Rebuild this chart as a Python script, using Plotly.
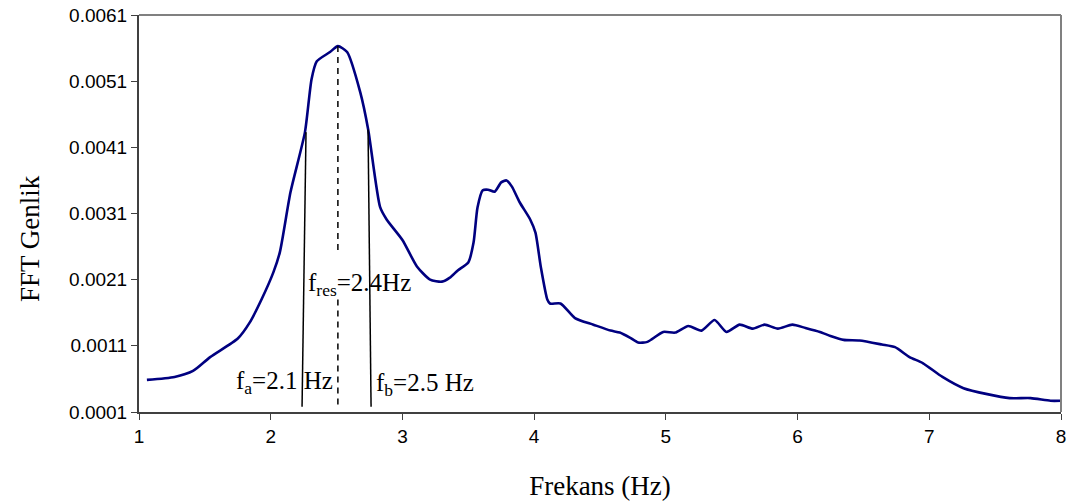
import plotly.graph_objects as go

# FFT amplitude spectrum (frequency in Hz, amplitude)
freq_hz = [1.06, 1.27, 1.41, 1.54, 1.75, 1.84, 1.93, 2.02, 2.07, 2.15, 2.26, 2.31, 2.35,
           2.45, 2.51, 2.58, 2.68, 2.74, 2.83, 2.88, 3.00, 3.11, 3.21, 3.30, 3.36, 3.42,
           3.50, 3.54, 3.57, 3.61, 3.65, 3.70, 3.75, 3.79, 3.83, 3.89, 3.97, 4.01, 4.05,
           4.10, 4.12, 4.20, 4.31, 4.45, 4.58, 4.65, 4.73, 4.79, 4.86, 4.98, 5.07, 5.17,
           5.27, 5.37, 5.46, 5.56, 5.66, 5.75, 5.85, 5.96, 6.06, 6.17, 6.25, 6.35, 6.47,
           6.64, 6.74, 6.85, 6.95, 7.10, 7.26, 7.44, 7.61, 7.77, 7.92, 8.00]
fft_amp = [0.000585, 0.00063, 0.00072, 0.00093, 0.00121, 0.00145, 0.00180, 0.00221, 0.00252,
           0.00342, 0.00433, 0.00513, 0.00540, 0.00554, 0.00563, 0.00554, 0.00493, 0.00437,
           0.00320, 0.00301, 0.00270, 0.00230, 0.00210, 0.00207, 0.00213, 0.00224, 0.00236,
           0.00266, 0.00319, 0.00345, 0.00346, 0.00343, 0.00357, 0.00360, 0.00351, 0.00327,
           0.00301, 0.00281, 0.00230, 0.00180, 0.00174, 0.00174, 0.00152, 0.00142, 0.00133,
           0.00130, 0.00122, 0.00115, 0.00116, 0.00131, 0.00130, 0.00140, 0.00133, 0.00149,
           0.00131, 0.00142, 0.00136, 0.00142, 0.00136, 0.00142, 0.00137, 0.00131, 0.00125,
           0.00119, 0.00118, 0.00112, 0.00108, 0.00093, 0.00084, 0.00063, 0.00046, 0.00037,
           0.00031, 0.00031, 0.00027, 0.00027]

# Half-power band markers (bottom/top endpoints) and resonance marker
fa_x = [2.238, 2.268]
fa_y = [0.00018, 0.00433]
fb_x = [2.762, 2.739]
fb_y = [0.00018, 0.00437]
fres_x = 2.51
fres_upper = [0.00563, 0.00253]
fres_lower = [0.00180, 0.00018]

x_ticks = [1, 2, 3, 4, 5, 6, 7, 8]
y_ticks = [0.0001, 0.0011, 0.0021, 0.0031, 0.0041, 0.0051, 0.0061]

fig = go.Figure()

fig.add_trace(go.Scatter(
    x=freq_hz, y=fft_amp, mode="lines",
    line=dict(color="#000080", width=2.6, shape="spline", smoothing=0.6),
    showlegend=False, hoverinfo="skip"))

for xs, ys in [(fa_x, fa_y), (fb_x, fb_y)]:
    fig.add_trace(go.Scatter(x=xs, y=ys, mode="lines",
                             line=dict(color="black", width=1.5),
                             showlegend=False, hoverinfo="skip"))

for ys in [fres_upper, fres_lower]:
    fig.add_trace(go.Scatter(x=[fres_x, fres_x], y=ys, mode="lines",
                             line=dict(color="black", width=1.5, dash="6px,5px"),
                             showlegend=False, hoverinfo="skip"))

serif = "Liberation Serif, Times New Roman, serif"
ann_font = dict(family=serif, size=25, color="black")
fig.add_annotation(x=1.725, y=0.00054, xref="x", yref="y", text="f<sub>a</sub>=2.1 Hz",
                   showarrow=False, xanchor="left", yanchor="middle", font=ann_font)
fig.add_annotation(x=2.27, y=0.00202, xref="x", yref="y", text="f<sub>res</sub>=2.4Hz",
                   showarrow=False, xanchor="left", yanchor="middle", font=ann_font)
fig.add_annotation(x=2.785, y=0.00052, xref="x", yref="y", text="f<sub>b</sub>=2.5 Hz",
                   showarrow=False, xanchor="left", yanchor="middle", font=ann_font)

# vertical axis title, placed close to the left edge
fig.add_annotation(x=-0.118, y=0.436, xref="paper", yref="paper", text="FFT Genlik",
                   textangle=-90, showarrow=False, xanchor="center", yanchor="middle",
                   font=dict(family=serif, size=27, color="black"))

# light grey frame on the top and right edges of the plot area
fig.add_shape(type="line", xref="paper", yref="paper", x0=0, x1=1, y0=1, y1=1,
              line=dict(color="#808080", width=2))
fig.add_shape(type="line", xref="paper", yref="paper", x0=1, x1=1, y0=0, y1=1,
              line=dict(color="#808080", width=2))

tick_font = dict(family="Liberation Sans, Arial, sans-serif", size=19, color="black")
fig.update_xaxes(range=[1, 8], tickvals=x_ticks, ticktext=[str(v) for v in x_ticks],
                 showgrid=False, zeroline=False, showline=True, linecolor="#404040",
                 linewidth=2, ticks="outside", ticklen=6, tickcolor="#404040",
                 tickfont=tick_font, automargin=False,
                 title=dict(text="Frekans (Hz)", font=dict(family=serif, size=27, color="black"),
                            standoff=34))
fig.update_yaxes(range=[0.0001, 0.0061], tickvals=y_ticks,
                 ticktext=[f"{v:.4f}" for v in y_ticks],
                 showgrid=False, zeroline=False, showline=True, linecolor="#404040",
                 linewidth=2, ticks="outside", ticklen=6, tickcolor="#404040",
                 tickfont=tick_font, automargin=False)

fig.update_layout(width=1079, height=501,
                  margin=dict(l=139, r=18, t=15, b=89),
                  paper_bgcolor="white", plot_bgcolor="white")

fig.write_html("out.html")
